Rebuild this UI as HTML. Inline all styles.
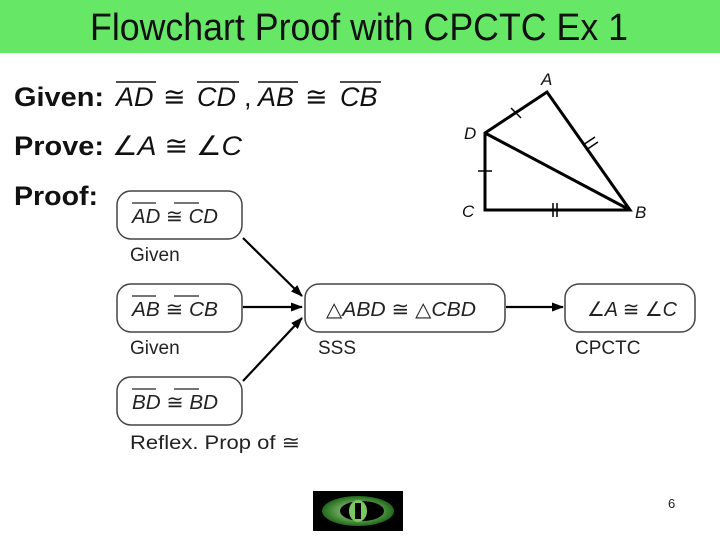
<!DOCTYPE html>
<html><head><style>body{margin:0;background:#fff}svg{display:block}</style></head><body>
<svg width="720" height="539" xmlns="http://www.w3.org/2000/svg" font-family="Liberation Sans, sans-serif">
<defs><marker id="ar" markerWidth="12" markerHeight="9" refX="11" refY="4.5" orient="auto" markerUnits="userSpaceOnUse"><path d="M0,0L12,4.5L0,9z" fill="#000"/></marker>
<radialGradient id="g" cx="50%" cy="50%" r="50%"><stop offset="0" stop-color="#bfe8a0"/><stop offset="1" stop-color="#1f6a1a"/></radialGradient></defs>
<rect x="0" y="0" width="720" height="53" fill="#66e866"/>
<text x="90" y="40" font-size="38" textLength="538" lengthAdjust="spacingAndGlyphs" fill="#111">Flowchart Proof with CPCTC Ex 1</text>
<g font-size="27" fill="#111">
<text x="14" y="106" font-weight="bold" textLength="90" lengthAdjust="spacingAndGlyphs">Given:</text>
<text x="116" y="106" font-style="italic">AD</text><text x="163" y="106">≅</text><text x="197" y="106" font-style="italic">CD</text><text x="244" y="106">,</text><text x="258" y="106" font-style="italic">AB</text><text x="305" y="106">≅</text><text x="340" y="106" font-style="italic">CB</text>
<path d="M116,82h40M197,82h42M258,82h40M340,82h41" stroke="#111" stroke-width="1.5"/>
<text x="14" y="155" font-weight="bold" textLength="90" lengthAdjust="spacingAndGlyphs">Prove:</text>
<text x="112" y="155" textLength="130" lengthAdjust="spacingAndGlyphs">∠<tspan font-style="italic">A</tspan> ≅ ∠<tspan font-style="italic">C</tspan></text>
<text x="14" y="205" font-weight="bold" textLength="84" lengthAdjust="spacingAndGlyphs">Proof:</text>
</g>
<g stroke="#000" stroke-width="3" fill="none">
<path d="M485,133L547,92L630,210L485,210Z M485,133L630,210"/>
</g>
<g stroke="#000" stroke-width="1.5">
<path d="M511,108l10,10M478,171h14M583,145l12,-8M586,150l12,-8M553,203v14M557,203v14"/>
</g>
<g font-size="17" font-style="italic" fill="#111">
<text x="541" y="85">A</text><text x="464" y="139">D</text><text x="462" y="217">C</text><text x="635" y="218">B</text>
</g>
<g fill="none" stroke="#444" stroke-width="1.5">
<rect x="117" y="191" width="125" height="48" rx="14"/>
<rect x="117" y="284" width="125" height="48" rx="14"/>
<rect x="117" y="377" width="125" height="48" rx="14"/>
<rect x="305" y="284" width="200" height="48" rx="14"/>
<rect x="565" y="284" width="130" height="48" rx="14"/>
</g>
<g font-size="20" font-style="italic" fill="#222">
<text x="132" y="223" textLength="86" lengthAdjust="spacingAndGlyphs">AD <tspan font-style="normal">≅</tspan> CD</text>
<text x="132" y="316" textLength="86" lengthAdjust="spacingAndGlyphs">AB <tspan font-style="normal">≅</tspan> CB</text>
<text x="132" y="409" textLength="86" lengthAdjust="spacingAndGlyphs">BD <tspan font-style="normal">≅</tspan> BD</text>
<text x="326" y="316" textLength="150" lengthAdjust="spacingAndGlyphs"><tspan font-style="normal">△</tspan>ABD <tspan font-style="normal">≅ △</tspan>CBD</text>
<text x="587" y="316" textLength="90" lengthAdjust="spacingAndGlyphs"><tspan font-style="normal">∠</tspan>A <tspan font-style="normal">≅ ∠</tspan>C</text>
</g>
<path d="M132,203h24M174,203h25M132,296h24M174,296h25M132,389h24M174,389h25" stroke="#222" stroke-width="1.3"/>
<g font-size="19" fill="#222">
<text x="130" y="261">Given</text><text x="130" y="354">Given</text><text x="130" y="449" textLength="170" lengthAdjust="spacingAndGlyphs">Reflex. Prop of ≅</text>
<text x="318" y="354">SSS</text><text x="575" y="354">CPCTC</text>
</g>
<g stroke="#000" stroke-width="2.2" marker-end="url(#ar)">
<line x1="243" y1="238" x2="302" y2="296"/>
<line x1="243" y1="307" x2="302" y2="307"/>
<line x1="243" y1="381" x2="302" y2="318"/>
<line x1="506" y1="307" x2="563" y2="307"/>
</g>
<rect x="313" y="491" width="90" height="40" fill="#000"/>
<ellipse cx="358" cy="511" rx="36" ry="15" fill="url(#g)"/>
<ellipse cx="362" cy="511" rx="22" ry="10" fill="#000"/>
<ellipse cx="358" cy="511" rx="9" ry="11" fill="#7ac860"/>
<rect x="355" y="503" width="6" height="16" fill="#000"/>
<text x="668" y="508" font-size="13" fill="#222">6</text>
</svg>
</body></html>
